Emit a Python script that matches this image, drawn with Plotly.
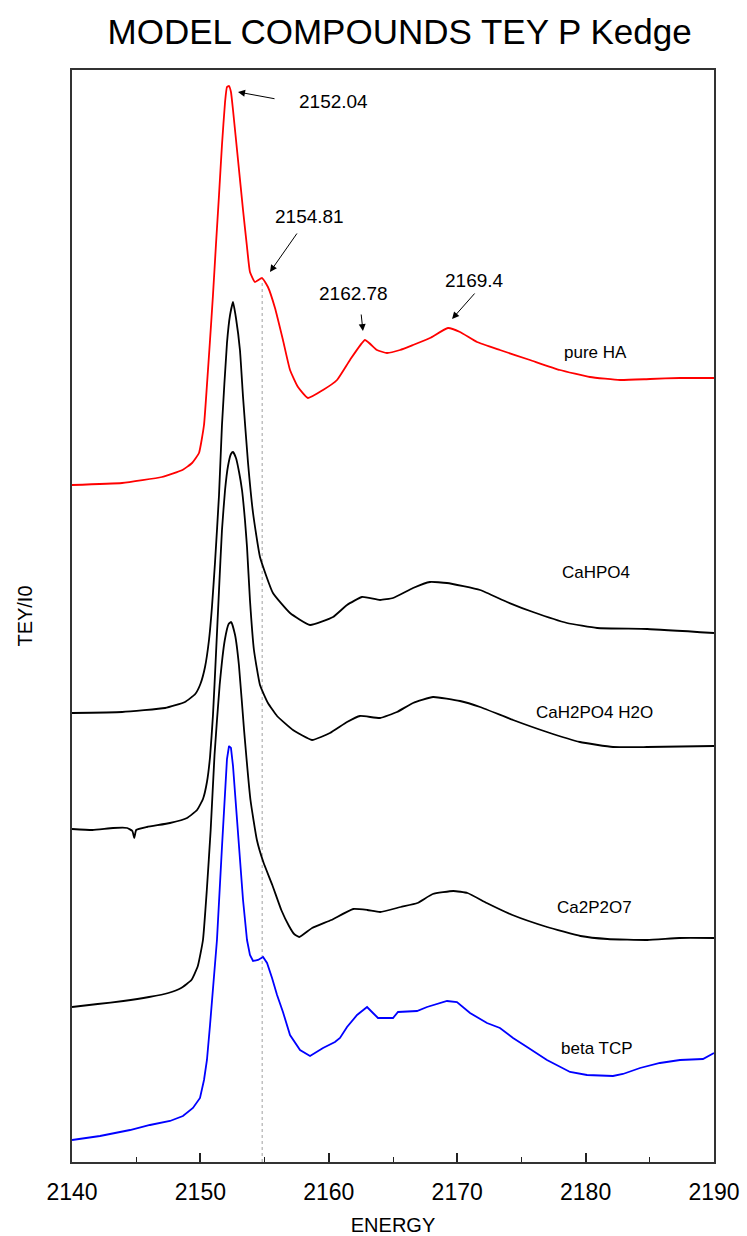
import plotly.graph_objects as go

# ---------------- data ----------------
ha_E = [2140.0, 2143.9, 2147.0, 2148.6, 2149.35, 2149.89, 2150.28, 2150.51, 2150.75, 2150.98,
        2151.21, 2151.45, 2151.68, 2151.92, 2152.07, 2152.23, 2152.38, 2152.54, 2152.93, 2153.32,
        2153.63, 2153.86, 2154.25, 2154.80, 2155.26, 2155.81, 2156.43, 2156.98, 2157.60, 2158.38,
        2159.55, 2160.64, 2161.65, 2162.82, 2163.75, 2164.53, 2165.55, 2166.56, 2167.88, 2169.28,
        2170.22, 2171.54, 2173.33, 2175.67, 2178.0, 2180.34, 2182.68, 2185.02, 2187.35, 2190.0]
ha_y = [6.77, 6.79, 6.85, 6.92, 6.99, 7.09, 7.37, 7.77, 8.22, 8.67,
        9.17, 9.67, 10.17, 10.60, 10.75, 10.76, 10.70, 10.52, 10.02, 9.52,
        9.15, 8.90, 8.80, 8.84, 8.75, 8.54, 8.22, 7.92, 7.75, 7.64,
        7.72, 7.82, 8.02, 8.22, 8.12, 8.09, 8.12, 8.17, 8.24, 8.34,
        8.30, 8.20, 8.12, 8.02, 7.92, 7.85, 7.82, 7.83, 7.84, 7.84]

cahpo4_E = [2140.0, 2143.9, 2147.25, 2148.8, 2149.6, 2150.0, 2150.36, 2150.67, 2150.90, 2151.14,
            2151.45, 2151.68, 2152.07, 2152.31, 2152.54, 2152.77, 2153.08, 2153.32, 2153.71, 2154.10,
            2154.64, 2155.65, 2156.98, 2158.54, 2160.33, 2161.42, 2162.59, 2163.99, 2165.0, 2166.56,
            2167.88, 2169.2, 2171.78, 2173.88, 2175.9, 2178.55, 2180.9, 2184.8, 2190.0]
cahpo4_y = [4.49, 4.50, 4.54, 4.60, 4.68, 4.78, 4.95, 5.22, 5.55, 6.00,
            6.67, 7.37, 8.19, 8.47, 8.60, 8.44, 8.12, 7.65, 6.99, 6.49,
            6.05, 5.69, 5.49, 5.37, 5.45, 5.57, 5.65, 5.62, 5.64, 5.74,
            5.80, 5.79, 5.72, 5.60, 5.50, 5.39, 5.34, 5.33, 5.29]

cah2po4_E = [2140.0, 2141.6, 2143.2, 2144.3, 2144.7, 2144.85, 2145.0, 2145.84, 2147.63, 2148.96,
             2149.74, 2150.2, 2150.51, 2150.75, 2150.98, 2151.21, 2151.45, 2151.68, 2151.92, 2152.15,
             2152.38, 2152.54, 2152.77, 2153.01, 2153.24, 2153.47, 2153.63, 2153.86, 2154.17, 2154.64,
             2155.26, 2155.97, 2157.21, 2158.69, 2160.09, 2161.42, 2162.43, 2163.99, 2165.31, 2166.56,
             2168.12, 2170.22, 2171.78, 2174.35, 2176.99, 2179.56, 2182.13, 2184.78, 2190.0]
cah2po4_y = [3.33, 3.32, 3.34, 3.34, 3.31, 3.24, 3.32, 3.35, 3.39, 3.44,
             3.52, 3.63, 3.80, 4.05, 4.47, 5.07, 5.72, 6.32, 6.72, 6.96,
             7.08, 7.10, 7.04, 6.90, 6.72, 6.42, 6.15, 5.62, 5.12, 4.77,
             4.59, 4.46, 4.32, 4.22, 4.29, 4.40, 4.46, 4.44, 4.50, 4.59,
             4.65, 4.61, 4.55, 4.42, 4.30, 4.20, 4.15, 4.15, 4.16]

ca2p2o7_E = [2140.0, 2142.0, 2144.0, 2146.0, 2147.5, 2148.5, 2149.3, 2149.8, 2150.2, 2150.5,
             2150.8, 2151.1, 2151.5, 2151.9, 2152.2, 2152.4, 2152.7, 2153.0, 2153.4, 2153.9,
             2154.4, 2154.9, 2155.6, 2156.3, 2156.9, 2157.3, 2157.7, 2158.7, 2160.2, 2161.9,
             2163.0, 2164.0, 2165.6, 2166.9, 2168.1, 2169.7, 2170.8, 2172.3, 2174.3, 2177.0,
             2179.6, 2181.7, 2184.8, 2187.3, 2190.0]
ca2p2o7_y = [1.55, 1.58, 1.61, 1.65, 1.69, 1.74, 1.82, 1.96, 2.22, 2.72,
             3.32, 4.07, 4.77, 5.22, 5.38, 5.40, 5.27, 4.97, 4.32, 3.62,
             3.22, 3.00, 2.77, 2.52, 2.36, 2.28, 2.25, 2.34, 2.42, 2.53,
             2.52, 2.50, 2.55, 2.59, 2.68, 2.71, 2.69, 2.59, 2.47, 2.35,
             2.26, 2.23, 2.22, 2.24, 2.24]

tcp_E = [2140.0, 2142.18, 2144.52, 2146.07, 2147.63, 2148.64, 2149.42, 2149.97, 2150.28, 2150.51,
         2150.75, 2150.98, 2151.29, 2151.68, 2151.92, 2152.07, 2152.23, 2152.38, 2152.54, 2152.93,
         2153.32, 2153.63, 2153.86, 2154.10, 2154.49, 2154.88, 2155.19, 2155.58, 2155.97, 2156.43,
         2156.98, 2157.76, 2158.54, 2159.55, 2160.48, 2160.87, 2161.42, 2162.20, 2162.98, 2163.44,
         2163.83, 2165.0, 2165.39, 2166.87, 2167.65, 2169.21, 2169.98, 2171.0, 2172.32, 2173.33,
         2174.35, 2175.44, 2176.99, 2178.79, 2180.11, 2182.13, 2182.91, 2184.24, 2185.79, 2187.35,
         2189.14, 2190.0]
tcp_y = [0.22, 0.26, 0.32, 0.37, 0.41, 0.46, 0.54, 0.64, 0.82, 1.02,
         1.37, 1.77, 2.22, 3.15, 3.72, 4.03, 4.16, 4.14, 3.96, 3.33,
         2.62, 2.22, 2.07, 2.01, 2.02, 2.05, 1.99, 1.84, 1.67, 1.50,
         1.27, 1.12, 1.06, 1.14, 1.20, 1.24, 1.35, 1.47, 1.55, 1.49,
         1.44, 1.44, 1.50, 1.51, 1.55, 1.61, 1.60, 1.49, 1.39, 1.34,
         1.24, 1.15, 1.02, 0.90, 0.87, 0.86, 0.88, 0.94, 0.99, 1.02,
         1.03, 1.09]

series_names = ["pure HA", "CaHPO4", "CaH2PO4 H2O", "Ca2P2O7", "beta TCP"]
series_colors = ["#ff0000", "#000000", "#000000", "#000000", "#0000ff"]
label_E = [2180.8, 2180.8, 2180.7, 2180.7, 2180.9]
label_y = [8.10, 5.90, 4.50, 2.55, 1.14]

peak_labels = ["2152.04", "2154.81", "2162.78", "2169.4"]
peak_head_E = [2152.93, 2155.42, 2162.66, 2169.60]
peak_head_y = [10.70, 8.90, 8.31, 8.43]
peak_tail_E = [2155.89, 2157.60, 2162.51, 2171.46]
peak_tail_y = [10.63, 9.30, 8.49, 8.70]
peak_text_E = [2160.33, 2158.46, 2161.96, 2171.31]
peak_text_y = [10.61, 9.46, 8.69, 8.82]

marker_E = 2154.81
marker_top = 8.84

x_ticks = [2140, 2150, 2160, 2170, 2180, 2190]

# ---------------- figure ----------------
FONT = "Liberation Sans, Arial, sans-serif"
fig = go.Figure()

all_E = [ha_E, cahpo4_E, cah2po4_E, ca2p2o7_E, tcp_E]
all_y = [ha_y, cahpo4_y, cah2po4_y, ca2p2o7_y, tcp_y]
for i, (xe, ye) in enumerate(zip(all_E, all_y)):
    shape = "linear" if series_names[i] == "beta TCP" else "spline"
    fig.add_trace(go.Scatter(
        x=xe, y=ye, mode="lines", name=series_names[i],
        line=dict(color=series_colors[i], width=1.8, shape=shape, smoothing=0.4),
        showlegend=False, hoverinfo="skip", cliponaxis=True))

fig.add_shape(type="line", xref="x", yref="y", x0=marker_E, x1=marker_E, y0=0, y1=marker_top,
              line=dict(color="#a0a0a0", width=1, dash="dot"), layer="below")

for name, xe, ye in zip(series_names, label_E, label_y):
    fig.add_annotation(x=xe, y=ye, text=name, showarrow=False,
                       font=dict(family=FONT, size=17, color="#000000"))

for t, hx, hy, tx, ty, lx, ly in zip(peak_labels, peak_head_E, peak_head_y, peak_tail_E,
                                      peak_tail_y, peak_text_E, peak_text_y):
    fig.add_annotation(x=hx, y=hy, ax=tx, ay=ty, axref="x", ayref="y", text="",
                       showarrow=True, arrowhead=2, arrowsize=1.4, arrowwidth=1,
                       arrowcolor="#000000")
    fig.add_annotation(x=lx, y=ly, text=t, showarrow=False,
                       font=dict(family=FONT, size=19, color="#000000"))

fig.update_layout(
    width=747, height=1236,
    margin=dict(l=72, r=33, t=70, b=74, autoexpand=False),
    paper_bgcolor="white", plot_bgcolor="white",
    title=dict(text="MODEL COMPOUNDS TEY P Kedge", x=0.535, xanchor="center",
               y=0.974, yanchor="middle",
               font=dict(family=FONT, size=35, color="#000000")),
    font=dict(family=FONT, color="#000000"),
)
fig.update_xaxes(range=[2140, 2190], tickmode="array", tickvals=x_ticks,
                 ticktext=[str(v) for v in x_ticks], automargin=False,
                 ticks="inside", ticklen=9, tickwidth=1.5, tickcolor="#222222",
                 minor=dict(dtick=5, ticks="inside", ticklen=5, tickwidth=1.2, tickcolor="#222222"),
                 showline=True, linecolor="#333333", linewidth=1.8, mirror=True,
                 showgrid=False, zeroline=False, ticklabelstandoff=8,
                 tickfont=dict(family=FONT, size=23, color="#000000"),
                 title=dict(text="ENERGY", font=dict(family=FONT, size=20, color="#000000"),
                            standoff=22))
fig.update_yaxes(range=[0, 10.92], showticklabels=False, ticks="", automargin=False,
                 showline=True, linecolor="#333333", linewidth=1.8, mirror=True,
                 showgrid=False, zeroline=False,
                 title=dict(text="TEY/I0", font=dict(family=FONT, size=20, color="#000000"),
                            standoff=32))

fig.write_html("out.html")
